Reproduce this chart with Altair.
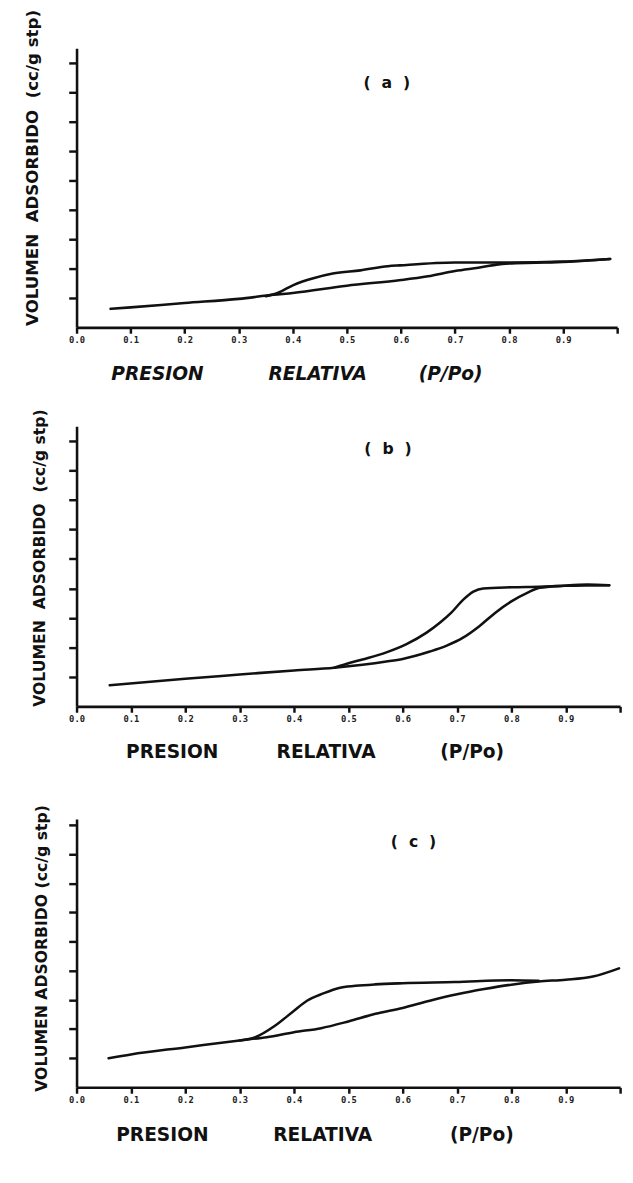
import altair as alt
import pandas as pd

# ---------------- data ----------------
X_TICKS = [0.0, 0.1, 0.2, 0.3, 0.4, 0.5, 0.6, 0.7, 0.8, 0.9, 1.0]
Y_TICKS = [1, 2, 3, 4, 5, 6, 7, 8, 9]

# panel (a)
A_ADS_X = [0.063, 0.10, 0.20, 0.30, 0.365, 0.40, 0.50, 0.60, 0.65, 0.70, 0.743, 0.794, 0.85, 0.889, 0.94, 0.987]
A_ADS_Y = [0.63, 0.68, 0.83, 0.97, 1.11, 1.17, 1.42, 1.61, 1.74, 1.92, 2.03, 2.17, 2.20, 2.22, 2.27, 2.33]
A_DES_X = [0.987, 0.90, 0.80, 0.70, 0.598, 0.576, 0.525, 0.474, 0.438, 0.401, 0.372, 0.35]
A_DES_Y = [2.33, 2.24, 2.21, 2.21, 2.11, 2.08, 1.94, 1.83, 1.67, 1.44, 1.17, 1.06]

# panel (b)
B_ADS_X = [0.061, 0.20, 0.30, 0.40, 0.474, 0.526, 0.57, 0.60, 0.65, 0.681, 0.711, 0.741, 0.77, 0.80, 0.83, 0.852, 0.896, 0.94, 0.98]
B_ADS_Y = [0.72, 0.94, 1.08, 1.22, 1.31, 1.41, 1.52, 1.61, 1.86, 2.06, 2.33, 2.72, 3.17, 3.56, 3.86, 4.02, 4.09, 4.13, 4.11]
B_DES_X = [0.98, 0.90, 0.85, 0.80, 0.748, 0.73, 0.711, 0.689, 0.67, 0.644, 0.607, 0.57, 0.526, 0.496, 0.474]
B_DES_Y = [4.11, 4.09, 4.06, 4.04, 4.00, 3.89, 3.61, 3.17, 2.86, 2.50, 2.11, 1.83, 1.59, 1.44, 1.31]

# panel (c)
C_ADS_X = [0.059, 0.10, 0.20, 0.30, 0.35, 0.40, 0.45, 0.50, 0.55, 0.60, 0.65, 0.70, 0.75, 0.80, 0.85, 0.90, 0.95, 0.998]
C_ADS_Y = [1.00, 1.13, 1.37, 1.61, 1.72, 1.89, 2.03, 2.26, 2.52, 2.72, 2.97, 3.19, 3.37, 3.52, 3.63, 3.69, 3.80, 4.08]
C_DES_X = [0.85, 0.80, 0.696, 0.60, 0.549, 0.513, 0.483, 0.454, 0.424, 0.399, 0.365, 0.329, 0.30]
C_DES_Y = [3.65, 3.67, 3.61, 3.57, 3.53, 3.48, 3.41, 3.22, 2.97, 2.61, 2.11, 1.72, 1.61]

LABELS = ["(\u00a0\u00a0a\u00a0\u00a0)", "(\u00a0\u00a0b\u00a0\u00a0)", "(\u00a0\u00a0c\u00a0\u00a0)"]
LABEL_X = [0.574, 0.573, 0.62]
LABEL_Y = [8.3, 8.73, 8.42]

Y_TITLES = [
    "VOLUMEN\u00a0 ADSORBIDO\u00a0 (cc/g stp)",
    "VOLUMEN\u00a0 ADSORBIDO\u00a0 (cc/g stp)",
    "VOLUMEN ADSORBIDO (cc/g stp)",
]
NB = "\u00a0"
X_TITLES = [
    "PRESION " + NB * 9 + "RELATIVA " + NB * 7 + "(P/Po)",
    "PRESION " + NB * 8 + "RELATIVA " + NB * 9 + "(P/Po)",
    "PRESION " + NB * 9 + "RELATIVA " + NB * 11 + "(P/Po)",
]

INK = "#111111"


def panel(ads_x, ads_y, des_x, des_y, label, lx, ly, ytitle, xtitle,
          width, height, ymax, ytitle_size, ytitle_x, ytitle_y,
          xtitle_x, xtitle_y, italic):
    rows = []
    for x, y in zip(ads_x, ads_y):
        rows.append({"x": x, "y": y, "branch": "ads", "kind": "curve", "text": ""})
    for x, y in zip(des_x, des_y):
        rows.append({"x": x, "y": y, "branch": "des", "kind": "curve", "text": ""})
    rows.append({"x": lx, "y": ly, "branch": "lbl", "kind": "label", "text": label})
    df = pd.DataFrame(rows)

    xaxis = alt.Axis(
        values=X_TICKS, format=".1f",
        labelExpr="datum.value > 0.95 ? '' : datum.label",
        labelFlush=False, labelOverlap=False,
        labelFont="DejaVu Sans Mono", labelFontSize=9, labelFontWeight="bold",
        labelColor="#222222", labelPadding=2,
        tickSize=6, tickWidth=2.5, tickColor=INK,
        domainWidth=2.6, domainColor=INK, grid=False,
        title=xtitle, titleX=xtitle_x, titleY=xtitle_y,
        titleAlign="left", titleBaseline="alphabetic",
        titleFont="DejaVu Sans", titleFontSize=19, titleFontWeight="bold",
        titleFontStyle="italic" if italic else "normal", titleColor=INK,
    )
    yaxis = alt.Axis(
        values=Y_TICKS, labels=False,
        tickSize=8, tickWidth=2.5, tickColor=INK,
        domainWidth=2.6, domainColor=INK, grid=False,
        title=ytitle, titleAngle=270, titleAlign="left", titleBaseline="alphabetic",
        titleX=ytitle_x, titleY=ytitle_y,
        titleFont="DejaVu Sans", titleFontSize=ytitle_size, titleFontWeight="bold",
        titleColor=INK,
    )
    base = alt.Chart(df).encode(
        x=alt.X("x:Q", scale=alt.Scale(domain=[0, 1], nice=False, zero=False), axis=xaxis),
        y=alt.Y("y:Q", scale=alt.Scale(domain=[0, ymax], nice=False, zero=True), axis=yaxis),
    )
    lines = base.transform_filter("datum.kind == 'curve'").mark_line(
        color=INK, strokeWidth=2.6, interpolate="monotone", strokeCap="round"
    ).encode(detail="branch:N")
    txt = base.transform_filter("datum.kind == 'label'").mark_text(
        font="DejaVu Sans", fontSize=16, fontWeight="bold", color=INK, baseline="middle"
    ).encode(text="text:N")
    return alt.layer(lines, txt).properties(width=width, height=height)


pa = panel(A_ADS_X, A_ADS_Y, A_DES_X, A_DES_Y, LABELS[0], LABEL_X[0], LABEL_Y[0],
           Y_TITLES[0], X_TITLES[0], 552, 285, 9.5, 17, -40, 283, 35, 53, True)
pb = panel(B_ADS_X, B_ADS_Y, B_DES_X, B_DES_Y, LABELS[1], LABEL_X[1], LABEL_Y[1],
           Y_TITLES[1], X_TITLES[1], 555, 286, 9.5, 16, -33, 286, 50, 52, False)
pc = panel(C_ADS_X, C_ADS_Y, C_DES_X, C_DES_Y, LABELS[2], LABEL_X[2], LABEL_Y[2],
           Y_TITLES[2], X_TITLES[2], 555, 274, 9.2, 16, -31, 278, 40, 54, False)

inner = alt.concat(pb, pc, columns=1, spacing=44)
chart = alt.concat(pa, inner, columns=1, spacing=25).properties(
    padding={"left": 15, "top": -12, "right": 0, "bottom": 0},
    background="white",
).configure_view(stroke=None)

chart.save("out.html", embed_options={"renderer": "svg", "actions": False})
